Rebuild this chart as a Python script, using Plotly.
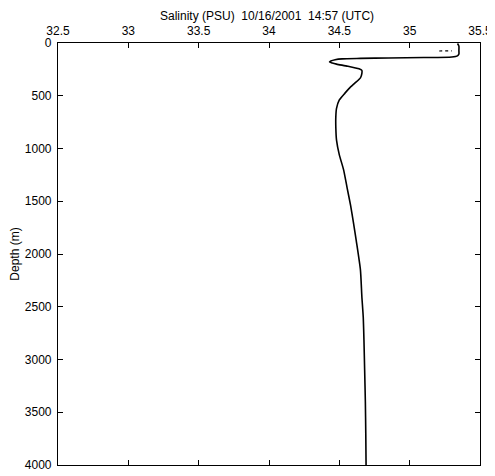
import plotly.graph_objects as go

# Salinity profile (PSU) vs depth (m)
depth = [5, 30, 70, 105, 122, 132, 138, 142, 146, 150, 158, 170, 180, 190, 200, 220, 245, 260,
         290, 330, 380, 430, 475, 540, 620, 700, 800, 920, 1060, 1200, 1370, 1540, 1700,
         1870, 2150, 2400, 2600, 2815, 3100, 3400, 3700, 4000]
salinity = [35.34, 35.35, 35.35, 35.35, 35.34, 35.30, 35.10, 34.85, 34.65, 34.52, 34.47, 34.44,
            34.43, 34.45, 34.48, 34.56, 34.64, 34.66, 34.66, 34.65, 34.61, 34.57, 34.54,
            34.50, 34.48, 34.475, 34.475, 34.48, 34.50, 34.53, 34.555, 34.58, 34.60,
            34.62, 34.65, 34.66, 34.67, 34.675, 34.68, 34.685, 34.688, 34.69]
# short upcast fragment near surface
frag_depth = [76, 74]
frag_sal = [35.21, 35.30]

x_ticks = [32.5, 33, 33.5, 34, 34.5, 35, 35.5]
x_ticklabels = ["32.5", "33", "33.5", "34", "34.5", "35", "35.5"]
y_ticks = [0, 500, 1000, 1500, 2000, 2500, 3000, 3500, 4000]

fig = go.Figure()
fig.add_trace(go.Scatter(x=salinity, y=depth, mode="lines", line_shape="spline",
                         line=dict(color="black", width=1.6, smoothing=0.6), showlegend=False))
fig.add_trace(go.Scatter(x=frag_sal, y=frag_depth, mode="lines",
                         line=dict(color="black", width=1.2, dash="dot"), showlegend=False))

font = dict(family="Liberation Sans, Arial, sans-serif", size=12, color="black")

# page body has an 8px default margin: figure is offset by (8, 8)
fig.update_layout(
    width=487, height=468,
    margin=dict(l=50, r=15, t=35, b=11, autoexpand=False),
    paper_bgcolor="white", plot_bgcolor="white",
    font=font,
    xaxis=dict(side="top", range=[32.5, 35.5], tickvals=x_ticks, ticktext=x_ticklabels,
               ticks="inside", ticklen=5, tickcolor="black", showline=True,
               linecolor="black", linewidth=1.2, mirror="ticks", showgrid=False,
               zeroline=False, tickfont=font, ticklabelstandoff=2, automargin=False),
    yaxis=dict(range=[4000, 0], tickvals=y_ticks, ticks="inside", ticklen=5,
               tickcolor="black", showline=True, linecolor="black", linewidth=1.2,
               mirror="ticks", showgrid=False, zeroline=False, tickfont=font,
               automargin=False, ticklabelstandoff=3,
               title=dict(text="Depth (m)", font=font, standoff=8)),
    annotations=[dict(text="Salinity (PSU)  10/16/2001  14:57 (UTC)",
                      x=(267 - 58) / 422, y=1 + (35 - 8) / 422,
                      xref="paper", yref="paper", showarrow=False, font=font,
                      xanchor="center", yanchor="middle")],
)

fig.write_html("out.html")
